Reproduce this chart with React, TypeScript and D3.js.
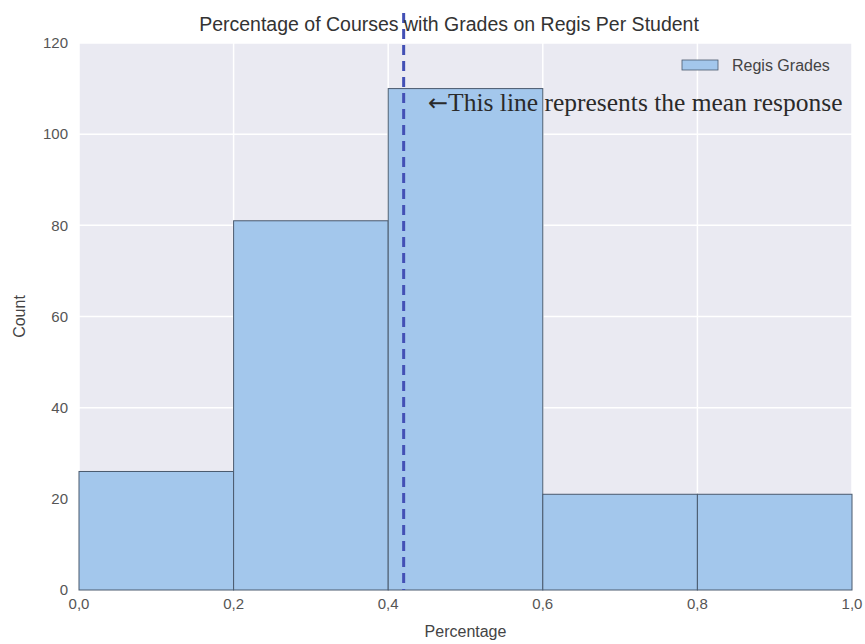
import React from "react";
import * as d3 from "d3";

const binEdges = [0.0, 0.2, 0.4, 0.6, 0.8, 1.0];
const counts = [26, 81, 110, 21, 21];
const meanValue = 0.42;
const xTicks = [0.0, 0.2, 0.4, 0.6, 0.8, 1.0];
const yTicks = [0, 20, 40, 60, 80, 100, 120];
const title = "Percentage of Courses with Grades on Regis Per Student";
const legendLabel = "Regis Grades";
const annotationArrow = "\u2190";
const annotation = "This line represents the mean response";

const W = 865, H = 644;
const plot = { left: 79, right: 852, top: 43, bottom: 590 };

export default function App() {
  const x = d3.scaleLinear().domain([0, 1]).range([plot.left, plot.right]);
  const y = d3.scaleLinear().domain([0, 120]).range([plot.bottom, plot.top]);
  const fmt = (v: number) => v.toFixed(1).replace(".", ",");
  const sans = "'Liberation Sans', Arial, sans-serif";
  const bars = counts.map((c, i) => ({ x0: binEdges[i], x1: binEdges[i + 1], c }));
  return (
    <svg width={W} height={H} style={{ position: "absolute", left: 0, top: 0 }} fontFamily={sans}>
      <rect x={0} y={0} width={W} height={H} fill="#ffffff" />
      <rect x={plot.left} y={plot.top} width={plot.right - plot.left} height={plot.bottom - plot.top} fill="#eaeaf2" />
      {yTicks.map((t) => (
        <line key={"gy" + t} x1={plot.left} x2={plot.right} y1={y(t)} y2={y(t)} stroke="#ffffff" strokeWidth={1.5} />
      ))}
      {xTicks.map((t) => (
        <line key={"gx" + t} x1={x(t)} x2={x(t)} y1={plot.top} y2={plot.bottom} stroke="#ffffff" strokeWidth={1.5} />
      ))}
      {bars.map((b, i) => (
        <rect key={"b" + i} x={x(b.x0)} y={y(b.c)} width={x(b.x1) - x(b.x0)} height={y(0) - y(b.c)}
          fill="#a3c7ec" stroke="#4a5a6e" strokeWidth={1} />
      ))}
      <line x1={x(meanValue)} x2={x(meanValue)} y1={plot.top - 30} y2={plot.bottom} stroke="#4350b5"
        strokeWidth={3} strokeDasharray="10,6" />
      {yTicks.map((t) => (
        <text key={"ty" + t} x={plot.left - 11} y={y(t)} dy="0.35em" textAnchor="end" fontSize={15} fill="#555">
          {t}
        </text>
      ))}
      {xTicks.map((t) => (
        <text key={"tx" + t} x={x(t)} y={plot.bottom + 19} textAnchor="middle" fontSize={15} fill="#555">
          {fmt(t)}
        </text>
      ))}
      <text x={(plot.left + plot.right) / 2} y={plot.bottom + 47} textAnchor="middle" fontSize={16} fill="#444">
        Percentage
      </text>
      <text transform={`translate(25,${(plot.top + plot.bottom) / 2}) rotate(-90)`} textAnchor="middle" fontSize={16} fill="#444">
        Count
      </text>
      <text x={449} y={31} textAnchor="middle" fontSize={19.5} fill="#333">
        {title}
      </text>
      <rect x={682} y={60} width={36} height={10} fill="#a3c7ec" stroke="#4a5a6e" strokeWidth={0.8} />
      <text x={732} y={70.5} fontSize={16} fill="#444">{legendLabel}</text>
      <text x={428} y={111} fontSize={25.5} fill="#2a2a2a" fontFamily="'Liberation Serif', 'Times New Roman', serif">
        <tspan fontFamily="'DejaVu Sans', sans-serif" fontSize={24}>{annotationArrow}</tspan>
        <tspan>{annotation}</tspan>
      </text>
    </svg>
  );
}
